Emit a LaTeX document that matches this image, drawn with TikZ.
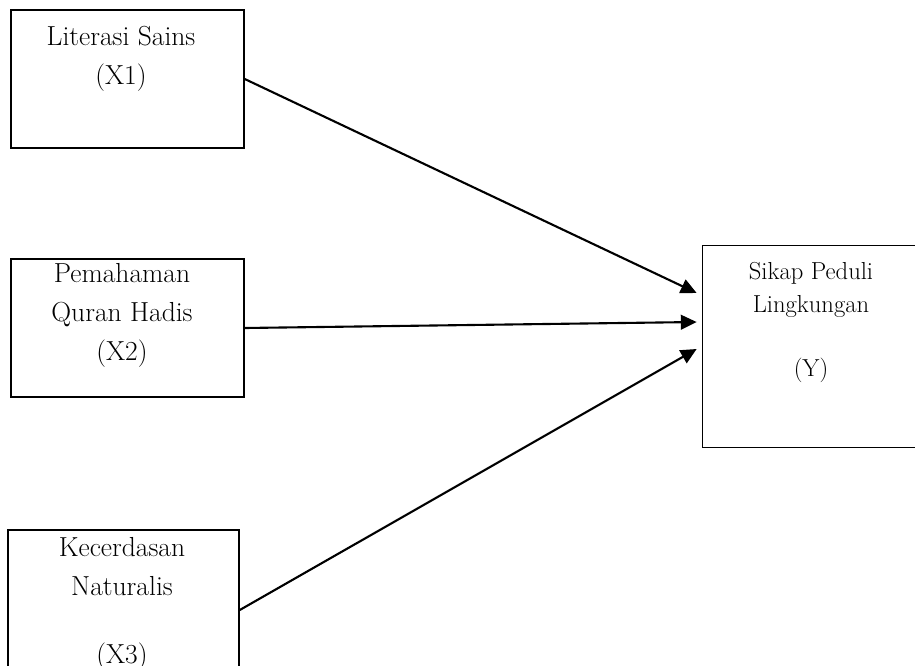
\documentclass[tikz,border=0pt]{standalone}
\usepackage{fontspec}
\usetikzlibrary{arrows.meta}

\begin{document}
\begin{tikzpicture}[x=0.03cm,y=-0.03cm,
    varbox/.style={draw=black,line width=1.3pt,inner sep=0pt},
    ybox/.style={draw=black,line width=0.6pt,inner sep=0pt},
    boxtext/.style={align=center,anchor=base,inner sep=0pt,font=\fontsize{23.5}{33}\selectfont},
    ytext/.style={align=center,anchor=base,inner sep=0pt,font=\fontsize{21}{28}\selectfont},
    arr/.style={line width=1.8pt,-{Triangle[length=13.5pt,width=12.5pt]}}]

    % Define the frame (pixel units, y pointing down)
    \useasboundingbox (0,0) rectangle (915,665);

    % --- Independent variables (left column) ---
    \node[varbox,minimum width=233*0.03cm,minimum height=138*0.03cm] (x1) at (127.5,79) {}; % Literasi Sains
    \node[varbox,minimum width=233*0.03cm,minimum height=138*0.03cm] (x2) at (127.5,328) {}; % Pemahaman Quran Hadis
    \node[varbox,minimum width=231*0.03cm,minimum height=160*0.03cm] (x3) at (123.5,610) {}; % Kecerdasan Naturalis, runs off the bottom

    % labels sit on the baseline of their last line
    \node[boxtext] (t1) at ([shift={(-6.5,75)}]x1.north) {Literasi Sains\\(X1)};
    \node[boxtext] (t2) at ([shift={(-5.5,102)}]x2.north) {Pemahaman\\Quran Hadis\\(X2)};
    \node[boxtext] (t3) at ([shift={(-1.5,134)}]x3.north) {Kecerdasan\\Naturalis\\[25pt](X3)};

    % --- Dependent variable (right) ---
    \node[ybox,minimum width=218*0.03cm,minimum height=202*0.03cm] (y) at (811,346) {}; % runs off the right edge
    \node[ytext] (ty) at ([shift={(0,132)}]y.north) {Sikap Peduli\\Lingkungan\\[27pt](Y)};

    % --- Paths ---
    \draw[arr] (x1.east) -- ([shift={(-5,-53)}]y.west);
    \draw[arr] (x2.east) -- ([shift={(-5,-24)}]y.west);
    \draw[arr] (x3.east) -- ([shift={(-5,3)}]y.west);

\end{tikzpicture}
\end{document}
